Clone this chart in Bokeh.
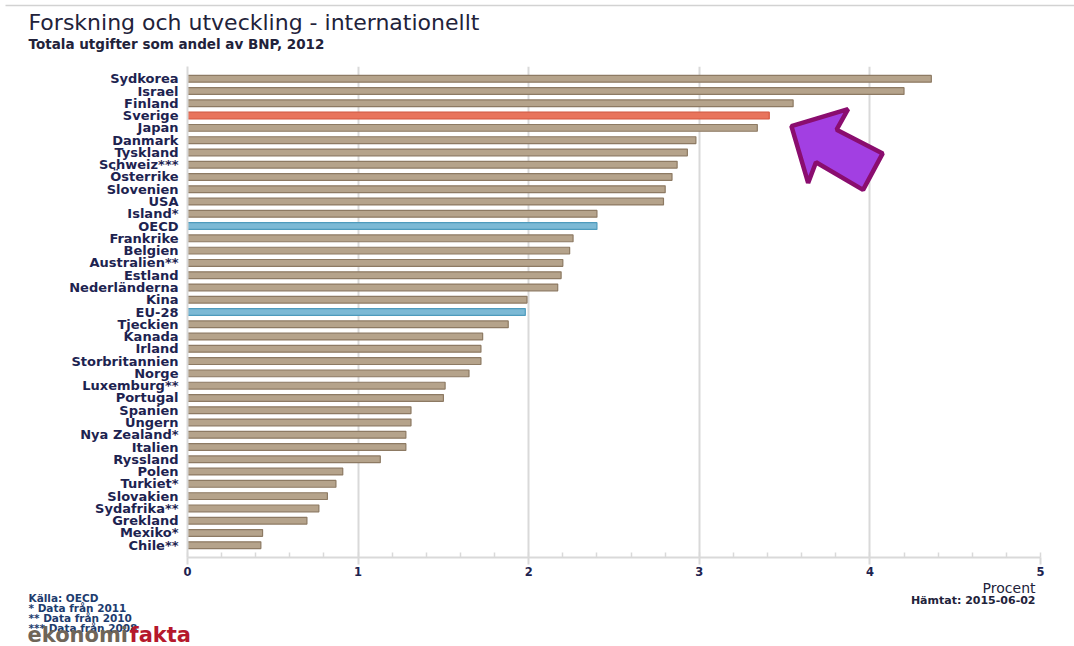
from bokeh.plotting import figure
from bokeh.layouts import column, row
from bokeh.models import (ColumnDataSource, FactorRange, Range1d,
                          SingleIntervalTicker, PolyAnnotation)
from bokeh.core.properties import value
from bokeh.embed import file_html
from bokeh.resources import INLINE

# ---- data (top to bottom as in the chart) ----
countries = ["Sydkorea", "Israel", "Finland", "Sverige", "Japan", "Danmark",
             "Tyskland", "Schweiz***", "Österrike", "Slovenien", "USA", "Island*",
             "OECD", "Frankrike", "Belgien", "Australien**", "Estland",
             "Nederländerna", "Kina", "EU-28", "Tjeckien", "Kanada", "Irland",
             "Storbritannien", "Norge", "Luxemburg**", "Portugal", "Spanien",
             "Ungern", "Nya Zealand*", "Italien", "Ryssland", "Polen", "Turkiet*",
             "Slovakien", "Sydafrika**", "Grekland", "Mexiko*", "Chile**"]
values = [4.36, 4.20, 3.55, 3.41, 3.34, 2.98, 2.93, 2.87, 2.84, 2.80, 2.79,
          2.40, 2.40, 2.26, 2.24, 2.20, 2.19, 2.17, 1.99, 1.98, 1.88, 1.73,
          1.72, 1.72, 1.65, 1.51, 1.50, 1.31, 1.31, 1.28, 1.28, 1.13, 0.91,
          0.87, 0.82, 0.77, 0.70, 0.44, 0.43]
highlight_red = ["Sverige"]
highlight_blue = ["OECD", "EU-28"]

title_text = "Forskning och utveckling - internationellt"
subtitle_text = "Totala utgifter som andel av BNP, 2012"
unit_text = "Procent"
fetched_text = "Hämtat: 2015-06-02"
notes = ["Källa: OECD", "* Data från 2011", "** Data från 2010", "*** Data från 2008"]

TAN, TAN_LINE = "#b5a38b", "#8d7a63"
RED, RED_LINE = "#e8745c", "#d4573f"
BLUE, BLUE_LINE = "#7cb9d5", "#4e9bbd"
TEXT = "#1d2350"
DARK = "#22223a"
GRID = "#d9d9d9"
FONT = "DejaVu Sans"
W = 1074

fills, lines = [], []
for c in countries:
    if c in highlight_red:
        fills.append(RED); lines.append(RED_LINE)
    elif c in highlight_blue:
        fills.append(BLUE); lines.append(BLUE_LINE)
    else:
        fills.append(TAN); lines.append(TAN_LINE)

source = ColumnDataSource(dict(country=countries, value=values,
                               fill=fills, line=lines))

HAS_FRAME_ALIGN = "frame_align" in figure.properties()


def text_panel(h):
    f = figure(width=W, height=h, output_backend="svg", toolbar_location=None,
               x_range=Range1d(0, W), y_range=Range1d(h, 0),
               min_border=0, x_axis_type=None, y_axis_type=None)
    f.grid.visible = False
    f.outline_line_color = None
    f.background_fill_color = "white"
    f.border_fill_color = "white"
    if HAS_FRAME_ALIGN:
        f.frame_align = False
    return f


def txt(f, x, y, t, size, style="normal", color=DARK, align="left"):
    f.text(x=[x], y=[y], text=[t], text_font=value(FONT), text_font_size=size,
           text_font_style=style, text_color=color, text_align=align,
           text_baseline="middle")


# ---- header ----
head = text_panel(58)
head.segment(x0=[5], y0=[5], x1=[W], y1=[5], line_color="#d2d2d2", line_width=1.5)
txt(head, 28, 22, title_text, "22px")
txt(head, 28, 43, subtitle_text, "13.5px", "bold")

# ---- main chart ----
p = figure(width=W, height=521, output_backend="svg", toolbar_location=None,
           y_range=FactorRange(factors=list(reversed(countries)),
                               range_padding=0.5, range_padding_units="absolute"),
           x_range=Range1d(0, 5),
           min_border_left=187, min_border_right=34, min_border_top=8,
           min_border_bottom=22)
p.outline_line_color = None
p.background_fill_color = "white"
p.border_fill_color = "white"
if HAS_FRAME_ALIGN:
    p.frame_align = False

p.hbar(y="country", left=0, right="value", height=0.55, source=source,
       fill_color="fill", line_color="line", line_width=1.2)

xa = p.xaxis[0]
xa.ticker = SingleIntervalTicker(interval=1, num_minor_ticks=5)
xa.axis_line_color = GRID
xa.axis_line_width = 2
xa.major_tick_in = 0
xa.major_tick_out = 7
xa.major_tick_line_color = GRID
xa.major_tick_line_width = 2
xa.minor_tick_in = 5
xa.minor_tick_out = 0
xa.minor_tick_line_color = GRID
xa.minor_tick_line_width = 1.5
xa.major_label_text_font = FONT
xa.major_label_text_font_size = "11.5px"
xa.major_label_text_font_style = "bold"
xa.major_label_text_color = TEXT
xa.major_label_standoff = 2

ya = p.yaxis[0]
ya.axis_line_color = GRID
ya.axis_line_width = 2
ya.major_tick_line_color = None
ya.minor_tick_line_color = None
ya.major_label_text_font = FONT
ya.major_label_text_font_size = "13px"
ya.major_label_text_font_style = "bold"
ya.major_label_text_color = TEXT
ya.major_label_standoff = 3

p.xgrid.grid_line_color = GRID
p.xgrid.grid_line_width = 2
p.ygrid.grid_line_color = None

# decorative arrow pointing at Sverige
arrow = PolyAnnotation(
    xs=[3.540, 3.872, 3.805, 4.075, 3.960, 3.684, 3.638],
    ys=[34.65, 36.02, 34.35, 32.42, 29.45, 31.70, 30.02],
    fill_color="#a23fe2", fill_alpha=1.0,
    line_color="#8a0d6f", line_width=4.5, line_alpha=1.0)
p.add_layout(arrow)

# ---- footer ----
foot = text_panel(67)
txt(foot, 1035, 8, unit_text, "14px", align="right")
txt(foot, 1035, 21, fetched_text, "11px", "bold", align="right")
for i, n in enumerate(notes):
    txt(foot, 28, 18 + 10 * i, n, "10.5px", "bold", color="#1d3c6e")
txt(foot, 27, 55, "ekonomi", "21px", "bold", color="#6f6558")
txt(foot, 129, 55, "fakta", "21px", "bold", color="#b5182c")

if HAS_FRAME_ALIGN:
    layout = column(head, p, foot, spacing=0)
else:
    layout = column(row(head), row(p), row(foot), spacing=0)
open("out.html", "w").write(file_html(layout, INLINE))
